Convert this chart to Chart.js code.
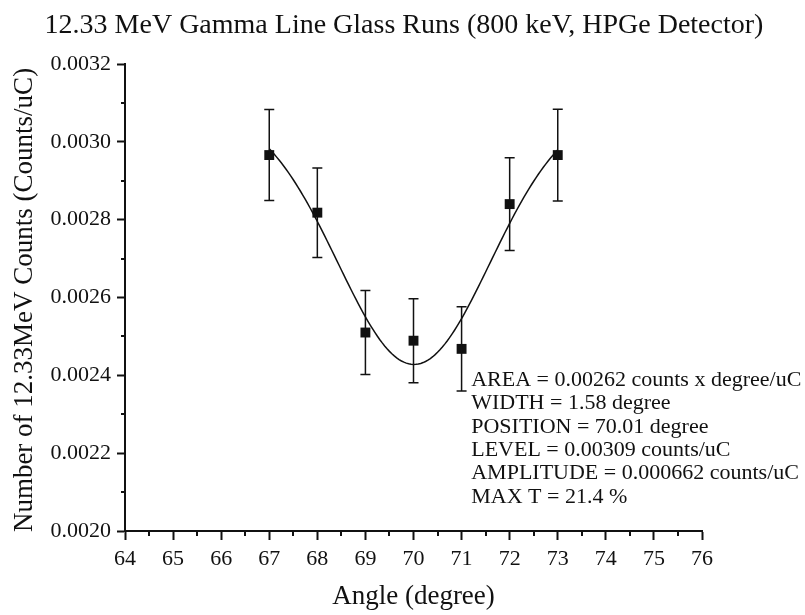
<!DOCTYPE html>
<html lang="en">
<head>
<meta charset="UTF-8">
<title>12.33 MeV Gamma Line Glass Runs</title>
<style>
  html, body { margin: 0; padding: 0; background: #ffffff; }
  .wrapper { width: 805px; height: 615px; }
</style>
</head>
<body>
<div class="wrapper"><canvas id="plot" width="805" height="615"></canvas></div>
<script src="https://cdn.jsdelivr.net/npm/chart.js"></script>
<script>
// measured points with their error bars
const angles = [67, 68, 69, 70, 71, 72, 73];
const counts = [0.002966, 0.002818, 0.002510, 0.002489, 0.002468, 0.002840, 0.002966];
const errors = [0.000117, 0.000115, 0.000108, 0.000108, 0.000108, 0.000119, 0.000118];

// gaussian dip fit parameters
const fitLevel = 0.00309;
const fitAmplitude = 0.000662;
const fitPosition = 70.01;
const fitWidth = 1.58;
const fitRange = [67, 73];

const fitLabels = [
  'AREA = 0.00262 counts x degree/uC',
  'WIDTH = 1.58 degree',
  'POSITION = 70.01 degree',
  'LEVEL = 0.00309 counts/uC',
  'AMPLITUDE = 0.000662 counts/uC',
  'MAX T = 21.4 %',
];

const titleText = '12.33 MeV Gamma Line Glass Runs (800 keV, HPGe Detector)';
const yTitleText = 'Number of 12.33MeV Counts (Counts/uC)';

const serif = '"Liberation Serif", "Times New Roman", serif';
const ink = '#111111';

const fitCurve = [];
for (let x = fitRange[0]; x <= fitRange[1] + 1e-9; x += 0.05) {
  const z = (x - fitPosition) / fitWidth;
  fitCurve.push({ x: x, y: fitLevel - fitAmplitude * Math.exp(-0.5 * z * z) });
}

// minor ticks half way between the labelled ones
const minorTicks = {
  id: 'minorTicks',
  afterDraw(chart) {
    const { ctx, chartArea, scales } = chart;
    ctx.save();
    ctx.strokeStyle = ink;
    ctx.lineWidth = 2;
    ctx.beginPath();
    for (let v = 64.5; v < 76; v += 1) {
      const px = Math.round(scales.x.getPixelForValue(v));
      ctx.moveTo(px, chartArea.bottom);
      ctx.lineTo(px, chartArea.bottom + 5);
    }
    for (let v = 0.0021; v < 0.0032; v += 0.0002) {
      const py = Math.round(scales.y.getPixelForValue(v));
      ctx.moveTo(chartArea.left, py);
      ctx.lineTo(chartArea.left - 4, py);
    }
    ctx.stroke();
    ctx.restore();
  }
};

const errorBars = {
  id: 'errorBars',
  afterDatasetsDraw(chart) {
    const { ctx, scales } = chart;
    ctx.save();
    ctx.strokeStyle = ink;
    ctx.lineWidth = 1.5;
    ctx.beginPath();
    angles.forEach((a, i) => {
      const x = scales.x.getPixelForValue(a);
      const top = scales.y.getPixelForValue(counts[i] + errors[i]);
      const bottom = scales.y.getPixelForValue(counts[i] - errors[i]);
      ctx.moveTo(x, top);
      ctx.lineTo(x, bottom);
      ctx.moveTo(x - 5, top);
      ctx.lineTo(x + 5, top);
      ctx.moveTo(x - 5, bottom);
      ctx.lineTo(x + 5, bottom);
    });
    ctx.stroke();
    ctx.restore();
  }
};

// title, rotated y title and the fit results
const labels = {
  id: 'labels',
  afterDraw(chart) {
    const { ctx, scales } = chart;
    ctx.save();
    ctx.fillStyle = ink;
    ctx.textBaseline = 'middle';

    ctx.textAlign = 'center';
    ctx.font = '28px ' + serif;
    ctx.fillText(titleText, 404, 26);

    ctx.save();
    ctx.translate(25, 300);
    ctx.rotate(-Math.PI / 2);
    ctx.font = '27px ' + serif;
    ctx.fillText(yTitleText, 0, 0);
    ctx.restore();

    ctx.textAlign = 'left';
    ctx.font = '22px ' + serif;
    const x = scales.x.getPixelForValue(71.2);
    const y = scales.y.getPixelForValue(0.002388);
    fitLabels.forEach((t, i) => ctx.fillText(t, x, y + i * 23.4));
    ctx.restore();
  }
};

new Chart(document.getElementById('plot'), {
  type: 'scatter',
  data: {
    datasets: [
      {
        label: 'fit',
        data: fitCurve,
        showLine: true,
        borderColor: ink,
        borderWidth: 1.5,
        pointRadius: 0,
        tension: 0,
        order: 2,
      },
      {
        label: 'counts',
        data: angles.map((a, i) => ({ x: a, y: counts[i] })),
        pointStyle: 'rect',
        pointRadius: 7,
        backgroundColor: ink,
        borderColor: ink,
        borderWidth: 0,
        order: 1,
      },
    ],
  },
  options: {
    responsive: false,
    animation: false,
    devicePixelRatio: 1,
    layout: { padding: { top: 64, right: 103, left: 0, bottom: 0 } },
    plugins: {
      legend: { display: false },
      tooltip: { enabled: false },
      title: { display: false },
    },
    scales: {
      x: {
        type: 'linear',
        min: 64,
        max: 76,
        afterFit: (s) => { s.height = 84; },
        border: { display: true, color: ink, width: 2 },
        grid: { drawOnChartArea: false, drawTicks: true, tickLength: 9, tickColor: ink, tickWidth: 2 },
        ticks: { stepSize: 1, color: ink, padding: 6, maxRotation: 0, font: { family: serif, size: 22 } },
        title: {
          display: true,
          text: 'Angle (degree)',
          color: ink,
          font: { family: serif, size: 27 },
          padding: { top: 0, bottom: 2 },
        },
      },
      y: {
        min: 0.002,
        max: 0.0032,
        afterFit: (s) => { s.width = 125; },
        border: { display: true, color: ink, width: 2 },
        grid: { drawOnChartArea: false, drawTicks: true, tickLength: 8, tickColor: ink, tickWidth: 2 },
        ticks: {
          stepSize: 0.0002,
          color: ink,
          padding: 6,
          font: { family: serif, size: 22 },
          callback: (v) => v.toFixed(4),
        },
        title: { display: false },
      },
    },
  },
  plugins: [minorTicks, errorBars, labels],
});
</script>
</body>
</html>
